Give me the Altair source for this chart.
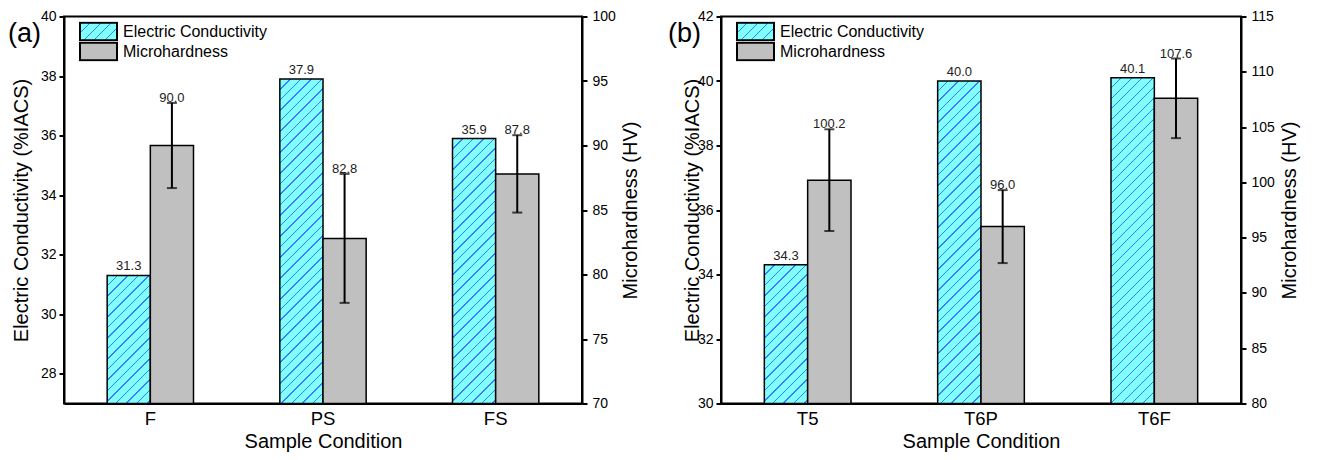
import json
import altair as alt
import pandas as pd

# ---------------- data ----------------
EC_NAME = "Electric Conductivity"
MH_NAME = "Microhardness"

cats_a = ["F", "PS", "FS"]
ec_a = [31.3, 37.9, 35.9]
mh_a = [90.0, 82.8, 87.8]
mh_err_a = [3.3, 5.0, 3.0]

cats_b = ["T5", "T6P", "T6F"]
ec_b = [34.3, 40.0, 40.1]
mh_b = [100.2, 96.0, 107.6]
mh_err_b = [4.6, 3.3, 3.6]

ec_dom_a = [27, 40]
ec_ticks_a = [28, 30, 32, 34, 36, 38, 40]
mh_dom_a = [70, 100]
mh_ticks_a = [70, 75, 80, 85, 90, 95, 100]

ec_dom_b = [30, 42]
ec_ticks_b = [30, 32, 34, 36, 38, 40, 42]
mh_dom_b = [80, 115]
mh_ticks_b = [80, 85, 90, 95, 100, 105, 110, 115]

panel_labels = ["(a)", "(b)"]

# ---------------- style ----------------
FONT = "Liberation Sans"
CYAN = "#80FFFF"
HATCH = "#4477FF"
GRAY = "#C0C0C0"
PLOT_H = 387


def hatch_gradient(W, H, period=10.5, lw=1.4, bg=CYAN, fg=HATCH):
    L = W + H
    a = L * W / (W * W + H * H)
    stops = [{"offset": 0, "color": bg}]
    k = 1
    while True:
        c = k * period
        s0 = (c - lw / 2) / L
        s1 = (c + lw / 2) / L
        if s0 >= 1:
            break
        s1 = min(s1, 1.0)
        stops += [
            {"offset": round(s0, 5), "color": bg},
            {"offset": round(s0, 5), "color": fg},
            {"offset": round(s1, 5), "color": fg},
            {"offset": round(s1, 5), "color": bg},
        ]
        k += 1
    stops.append({"offset": 1, "color": bg})
    return {
        "gradient": "linear",
        "x1": 0, "y1": 0,
        "x2": round(a, 5), "y2": round(a * H / W, 5),
        "stops": stops,
    }


def panel(label, cats, ec, mh, err, ec_dom, ec_ticks, mh_dom, mh_ticks,
          width, left_title_pad, label_dx):
    ec_df = pd.DataFrame({"cat": cats, "series": EC_NAME, "ec": ec})
    mh_df = pd.DataFrame({
        "cat": cats, "series": MH_NAME, "mh": mh,
        "lo": [m - e for m, e in zip(mh, err)],
        "hi": [m + e for m, e in zip(mh, err)],
    })

    bar_w = width / len(cats) * 0.5 / 2
    grads = [hatch_gradient(bar_w, (v - ec_dom[0]) / (ec_dom[1] - ec_dom[0]) * PLOT_H)
             for v in ec]
    fill_ec = {
        "condition": [{"test": f"datum.cat === '{c}'", "value": g}
                      for c, g in zip(cats[:-1], grads[:-1])],
        "value": grads[-1],
    }
    legend_grad = hatch_gradient(37, 17.4)

    x = alt.X("cat:N", sort=cats,
              scale=alt.Scale(paddingInner=0.5, paddingOuter=0.25),
              axis=alt.Axis(title="Sample Condition", labelAngle=0, ticks=False,
                            labelPadding=6, labelFontSize=18.5, titleFontSize=20,
                            titlePadding=3, labelFont=FONT, titleFont=FONT,
                            titleFontWeight="normal"))
    xo = alt.XOffset("series:N",
                     scale=alt.Scale(domain=[EC_NAME, MH_NAME],
                                     paddingInner=0, paddingOuter=0))

    ec_scale = alt.Scale(domain=ec_dom, nice=False, zero=False)
    mh_scale = alt.Scale(domain=mh_dom, nice=False, zero=False)
    ec_axis = alt.Axis(orient="left", values=ec_ticks,
                       title="Electric Conductivity (%IACS)",
                       tickSize=5, labelPadding=3, labelFontSize=14,
                       titleFontSize=20, titlePadding=left_title_pad,
                       titleFontWeight="normal")
    mh_axis = alt.Axis(orient="right", values=mh_ticks,
                       title="Microhardness (HV)",
                       tickSize=5, labelPadding=5, labelFontSize=14,
                       titleFontSize=20, titlePadding=5, titleAngle=270,
                       titleBaseline="top", titleFontWeight="normal")

    ec_base = alt.Chart(ec_df)
    ec_bars = ec_base.mark_bar(stroke="black", strokeWidth=1.5).encode(
        x=x, xOffset=xo,
        y=alt.Y("ec:Q", scale=ec_scale, axis=ec_axis),
        y2=alt.datum(ec_dom[0]),
        fill=fill_ec,
    )
    ec_text = ec_base.mark_text(baseline="bottom", dy=-2, fontSize=13,
                                color="#222222", font=FONT).encode(
        x=x, xOffset=xo,
        y=alt.Y("ec:Q", scale=ec_scale, axis=ec_axis),
        text=alt.Text("ec:Q", format=".1f"),
    )
    tag = alt.Chart(pd.DataFrame({"label": [label]})).mark_text(
        align="left", baseline="middle", fontSize=27, font=FONT, color="black"
    ).encode(x=alt.value(label_dx), y=alt.value(17), text="label:N")

    mh_base = alt.Chart(mh_df)
    mh_bars = mh_base.mark_bar(stroke="black", strokeWidth=1.5).encode(
        x=x, xOffset=xo,
        y=alt.Y("mh:Q", scale=mh_scale, axis=mh_axis),
        y2=alt.datum(mh_dom[0]),
        fill=alt.Fill("series:N",
                      scale=alt.Scale(domain=[EC_NAME, MH_NAME],
                                      range=[alt.ExprRef(json.dumps(legend_grad)), GRAY]),
                      legend=alt.Legend(title=None, orient="none", legendX=15, legendY=5,
                                        symbolType="M-1.85,-0.87H1.85V0.87H-1.85Z",
                                        symbolSize=400, symbolOffset=8.5,
                                        symbolStrokeColor="black",
                                        symbolStrokeWidth=2, labelFontSize=16,
                                        labelFont=FONT, labelColor="black",
                                        labelOffset=13.5, rowPadding=0, padding=0,
                                        clipHeight=20)),
    )
    err_rule = mh_base.mark_rule(color="black", strokeWidth=2).encode(
        x=x, xOffset=xo,
        y=alt.Y("lo:Q", scale=mh_scale, axis=mh_axis), y2="hi:Q",
    )
    cap_hi = mh_base.mark_tick(color="black", thickness=2, size=10).encode(
        x=x, xOffset=xo, y=alt.Y("hi:Q", scale=mh_scale, axis=mh_axis))
    cap_lo = mh_base.mark_tick(color="black", thickness=2, size=10).encode(
        x=x, xOffset=xo, y=alt.Y("lo:Q", scale=mh_scale, axis=mh_axis))
    mh_text = mh_base.mark_text(baseline="bottom", dy=2, fontSize=13,
                                color="#222222", font=FONT).encode(
        x=x, xOffset=xo,
        y=alt.Y("hi:Q", scale=mh_scale, axis=mh_axis),
        text=alt.Text("mh:Q", format=".1f"),
    )

    ec_layer = alt.layer(ec_bars, ec_text, tag)
    mh_layer = alt.layer(mh_bars, err_rule, cap_hi, cap_lo, mh_text)
    return alt.layer(ec_layer, mh_layer).resolve_scale(y="independent").properties(
        width=width, height=PLOT_H)


pa = panel(panel_labels[0], cats_a, ec_a, mh_a, mh_err_a, ec_dom_a, ec_ticks_a,
           mh_dom_a, mh_ticks_a, 518, 9, -56)
pb = panel(panel_labels[1], cats_b, ec_b, mh_b, mh_err_b, ec_dom_b, ec_ticks_b,
           mh_dom_b, mh_ticks_b, 520, -5, -53)

chart = alt.hconcat(pa, pb, spacing=25).resolve_scale(
    x="independent", xOffset="independent", fill="independent"
).resolve_legend(fill="independent").properties(
    padding={"left": 7, "top": 8.5, "right": 5, "bottom": 5},
    background="white",
).configure(font=FONT).configure_axis(
    domainColor="black", domainWidth=2, tickColor="black", tickWidth=2,
    labelColor="black", titleColor="black", grid=False,
    labelFont=FONT, titleFont=FONT,
).configure_view(stroke="black", strokeWidth=2)

chart.save("out.html", embed_options={"renderer": "svg", "actions": False})
